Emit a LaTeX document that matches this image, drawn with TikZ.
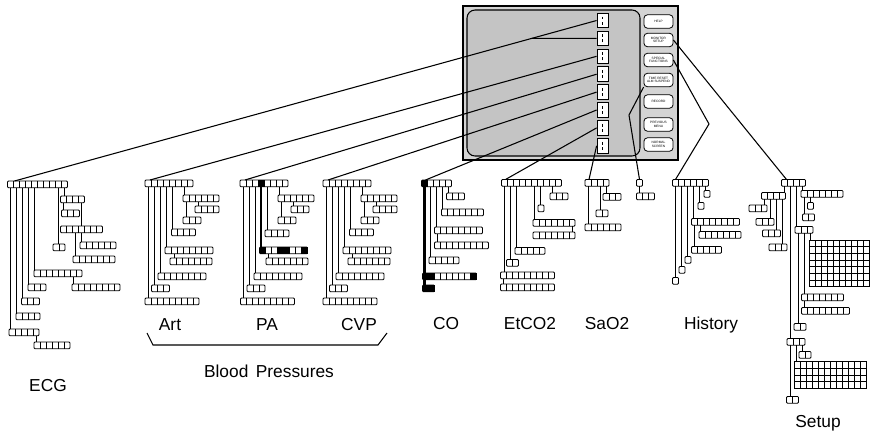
\documentclass[tikz,border=0pt]{standalone}
\usepackage{fontspec}
\setmainfont{Liberation Sans}
\usetikzlibrary{calc}

\newlength\cw \setlength\cw{4.5pt}
\newlength\chh \setlength\chh{5pt}

% row of menu cells: name, x, y, cells
\newcommand\mrow[4]{%
  \node[mrow, minimum width={#4*\cw}] (#1) at (#2,#3) {};
  \ifnum#4>1\relax
    \foreach \k in {2,...,#4}
      \draw[cell] ($(#1.north west)+({6*(\k-1)},0)$) -- ($(#1.south west)+({6*(\k-1)},0)$);
  \fi}
% grid of cells: name, x, y, columns, rows
\newcommand\mgrid[5]{%
  \node[mrow, rounded corners=0pt, minimum width={#4*\cw}, minimum height={#5*\chh}] (#1) at (#2,#3) {};
  \foreach \k in {2,...,#4}
    \draw[cell] ($(#1.north west)+({6*(\k-1)},0)$) -- ($(#1.south west)+({6*(\k-1)},0)$);
  \foreach \r in {2,...,#5}
    \draw[cell] ($(#1.north west)+(0,{6.667*(\r-1)})$) -- ($(#1.north east)+(0,{6.667*(\r-1)})$);}
% black cell
\newcommand\blk[2]{\fill ($(#1.north west)+({6*(#2-1)},0)$) rectangle ($(#1.south west)+({6*#2},0)$);}
% link from cell of one row down to another row
\newcommand\lnk[4][]{%
  \path ($(#2.south west)+({6*#3-3},0)$) coordinate (lk);
  \draw[lnk,#1] (lk) -- (lk |- #4.north);}

\begin{document}
\begin{tikzpicture}[x=0.75pt, y=-0.75pt,
    mrow/.style={draw, fill=white, rounded corners=0.7pt, line width=0.6pt,
      inner sep=0pt, outer sep=0pt, anchor=north west, minimum height=\chh},
    cell/.style={line width=0.45pt},
    lnk/.style={line width=0.55pt},
    heavy/.style={line width=1.6pt},
    feed/.style={line width=0.8pt},
    frame/.style={draw, line width=0.8pt, fill=black!17, minimum width=161.25pt, minimum height=115.5pt},
    screen/.style={draw, line width=0.8pt, fill=black!23, rounded corners=6pt,
      minimum width=129.75pt, minimum height=109.5pt},
    key/.style={draw, fill=white, line width=0.6pt, minimum width=8.25pt, minimum height=11pt,
      inner sep=0pt, path picture={
        \draw[line width=0.6pt] ([yshift=-2.5pt]path picture bounding box.north) -- ++(0,-2.2pt);
        \draw[line width=0.6pt] ([yshift=2.5pt]path picture bounding box.south) -- ++(0,2.2pt);}},
    btn/.style={draw, fill=white, line width=0.6pt, rounded corners=2.5pt, minimum width=21.75pt,
      minimum height=10pt, inner sep=0pt, align=center, font=\fontsize{2.4}{2.8}\selectfont},
    lbl/.style={font=\fontsize{13}{15}\selectfont, inner sep=0pt}]
  \useasboundingbox (0,0) rectangle (872,433);

  \node[frame] (mon) at (570.5,83) {};
  \node[screen] (scr) at (553.5,83) {};
  \foreach \i in {1,...,8}
    \node[key] (k\i) at (602.5,{20.5+17.9*(\i-1)}) {};
  \node[btn] (b1) at (658.5,21.5) {HELP};
  \node[btn] (b2) at (658.5,40) {MONITOR\\SETUP};
  \node[btn] (b3) at (658.5,60) {SPECIAL\\FUNCTIONS};
  \node[btn] (b4) at (658.5,80) {TIME RESET\\ALM SUSPEND};
  \node[btn] (b5) at (658.5,101.5) {RECORD};
  \node[btn] (b6) at (658.5,124.5) {PREVIOUS\\MENU};
  \node[btn] (b7) at (658.5,144.5) {NORMAL\\SCREEN};

  % ECG
  \mrow{e0}{7.5}{181}{10}
  \mrow{e1}{60.5}{196}{4}
  \mrow{e2}{61.5}{210}{3}
  \mrow{e3}{60.5}{226}{7}
  \mrow{e4}{80}{242}{6}
  \mrow{e5}{73}{256}{7}
  \mrow{e6}{53}{244}{2}
  \mrow{e7}{34}{270}{8}
  \mrow{e8}{72}{284}{8}
  \mrow{e9}{28}{284}{3}
  \mrow{e10}{21.5}{298}{3}
  \mrow{e11}{16}{313}{4}
  \mrow{e12}{9}{329}{5}
  \mrow{e13}{34}{342}{6}
  \lnk{e0}{1}{e12} \lnk{e0}{2}{e11} \lnk{e0}{3}{e10} \lnk{e0}{4}{e9}
  \lnk{e0}{5}{e7} \lnk{e0}{9}{e6} \lnk{e0}{10}{e1}
  \lnk{e1}{1}{e2} \lnk{e1}{4}{e3} \lnk{e3}{4}{e4} \lnk{e3}{3}{e5}
  \lnk{e7}{7}{e8} \lnk{e12}{5}{e13}

  % Art
  \mrow{a0}{145}{180}{8}
  \mrow{a1}{183}{195}{6}
  \mrow{a2}{195}{206}{4}
  \mrow{a3}{183}{217}{3}
  \mrow{a4}{171.5}{229}{4}
  \mrow{a5}{165}{247}{8}
  \mrow{a6}{170}{258}{7}
  \mrow{a7}{158}{273}{8}
  \mrow{a8}{151.5}{285}{3}
  \mrow{a9}{145}{298}{9}
  \lnk{a0}{1}{a9} \lnk{a0}{2}{a8} \lnk{a0}{3}{a7} \lnk{a0}{4}{a5}
  \lnk{a0}{5}{a4} \lnk{a0}{7}{a1} \lnk{a1}{1}{a3} \lnk{a1}{3}{a2} \lnk{a5}{2}{a6}

  % PA
  \mrow{p0}{240}{180}{8}
  \mrow{p1}{278}{195}{6}
  \mrow{p2}{291}{206}{3}
  \mrow{p3}{278}{217}{3}
  \mrow{p4}{265}{230}{4}
  \mrow{p5}{259.5}{247}{8}
  \mrow{p6}{266}{258}{7}
  \mrow{p7}{254}{273}{8}
  \mrow{p8}{247}{285}{3}
  \mrow{p9}{240.5}{298}{9}
  \blk{p0}{4} \blk{p5}{1} \blk{p5}{4} \blk{p5}{5} \blk{p5}{8}
  \lnk{p0}{1}{p9} \lnk{p0}{2}{p8} \lnk{p0}{3}{p7} \lnk[heavy]{p0}{4}{p5}
  \lnk{p0}{5}{p4} \lnk{p0}{7}{p1} \lnk{p1}{1}{p3} \lnk{p1}{3}{p2} \lnk{p5}{2}{p6}

  % CVP
  \mrow{c0}{323}{180}{8}
  \mrow{c1}{361}{195}{6}
  \mrow{c2}{373}{206}{4}
  \mrow{c3}{361}{217}{3}
  \mrow{c4}{349.5}{229}{4}
  \mrow{c5}{343}{247}{8}
  \mrow{c6}{348}{258}{7}
  \mrow{c7}{336}{273}{8}
  \mrow{c8}{329.5}{285}{3}
  \mrow{c9}{323}{298}{9}
  \lnk{c0}{1}{c9} \lnk{c0}{2}{c8} \lnk{c0}{3}{c7} \lnk{c0}{4}{c5}
  \lnk{c0}{5}{c4} \lnk{c0}{7}{c1} \lnk{c1}{1}{c3} \lnk{c1}{3}{c2} \lnk{c5}{2}{c6}

  % CO
  \mrow{o0}{421.5}{180}{5}
  \mrow{o1}{446.5}{193}{3}
  \mrow{o2}{441.5}{209}{7}
  \mrow{o3}{434.5}{227}{8}
  \mrow{o4}{434.5}{242}{9}
  \mrow{o5}{429}{257}{5}
  \mrow{o6}{422.5}{273}{9}
  \mrow{o7}{422.5}{285}{2}
  \blk{o0}{1} \blk{o6}{1} \blk{o6}{2} \blk{o6}{9} \blk{o7}{1} \blk{o7}{2}
  \lnk[heavy]{o0}{1}{o7} \lnk{o0}{2}{o5} \lnk{o0}{3}{o3} \lnk{o0}{4}{o2}
  \lnk{o0}{5}{o1} \lnk{o3}{1}{o4}

  % EtCO2
  \mrow{t0}{501.5}{179.5}{10}
  \mrow{t1}{550}{193}{3}
  \mrow{t2}{538}{205}{1}
  \mrow{t3}{533}{219.5}{7}
  \mrow{t4}{533}{232}{7}
  \mrow{t5}{515}{247.5}{5}
  \mrow{t6}{506.5}{259.5}{2}
  \mrow{t7}{500.5}{272}{9}
  \mrow{t8}{500.5}{284}{9}
  \lnk{t0}{1}{t7} \lnk{t7}{1}{t8} \lnk{t0}{2}{t6} \lnk{t0}{3}{t5}
  \lnk{t0}{6}{t3} \lnk{t0}{7}{t2} \lnk{t0}{9}{t1} \lnk{t3}{7}{t4}

  % SaO2
  \mrow{s0}{585}{179.5}{4}
  \mrow{s1}{603}{193.5}{3}
  \mrow{s2}{596}{210}{2}
  \mrow{s3}{585}{224}{6}
  \lnk{s0}{1}{s3} \lnk{s0}{3}{s2} \lnk{s0}{4}{s1}

  % alarm
  \mrow{m0}{636.5}{179.5}{1}
  \mrow{m1}{636.5}{193}{3}
  \lnk{m0}{1}{m1}

  % History
  \mrow{h0}{672.5}{179.5}{6}
  \mrow{h1}{704}{190.5}{1}
  \mrow{h2}{698}{202.5}{1}
  \mrow{h3}{691.5}{218.5}{8}
  \mrow{h4}{699}{231.5}{7}
  \mrow{h5}{691.5}{246.5}{5}
  \mrow{h6}{685}{256.5}{1}
  \mrow{h7}{679}{266.5}{1}
  \mrow{h8}{672.5}{277.5}{1}
  \lnk{h0}{1}{h8} \lnk{h0}{2}{h7} \lnk{h0}{3}{h6} \lnk{h0}{4}{h3}
  \lnk{h3}{1}{h5} \lnk{h3}{2}{h4} \lnk{h0}{5}{h2} \lnk{h0}{6}{h1}

  % Setup
  \mrow{u0}{781.5}{179.5}{4}
  \mrow{u1}{801}{190.5}{7}
  \mrow{u2}{761.5}{192.5}{4}
  \mrow{u3}{749}{205}{3}
  \mrow{u4}{756}{218.5}{3}
  \mrow{u5}{762.5}{230}{3}
  \mrow{u6}{769}{244}{3}
  \mrow{u7}{807.5}{202.5}{1}
  \mrow{u8}{802.5}{214}{2}
  \mrow{u9}{795}{226.5}{3}
  \mgrid{g1}{809}{240}{10}{7}
  \mrow{u10}{801.5}{294}{7}
  \mrow{u11}{801.5}{307.5}{8}
  \mrow{u12}{794}{323.5}{2}
  \mrow{u13}{787}{338.5}{3}
  \mrow{u14}{799}{351.5}{2}
  \mgrid{g2}{794}{361.5}{12}{4}
  \mrow{u15}{786.5}{396.5}{2}
  \lnk{u0}{1}{u2} \lnk{u2}{1}{u3} \lnk{u2}{2}{u4} \lnk{u2}{3}{u5} \lnk{u2}{4}{u6}
  \lnk{u0}{2}{u13} \lnk{u13}{1}{u15} \lnk{u13}{2}{g2} \lnk{u13}{3}{u14}
  \lnk{u0}{3}{u9} \lnk{u9}{1}{u12} \lnk{u9}{2}{u10} \lnk{u10}{1}{u11} \lnk{u9}{3}{g1}
  \lnk{u0}{4}{u1} \lnk{u1}{1}{u8} \lnk{u1}{2}{u7}

  % feeds from the monitor
  \coordinate (ecgtop) at ($(e0.north west)+(7,0)$);
  \draw[feed] (k1.west) -- (ecgtop);
  \draw[feed] (k2.west) -- (intersection of k1.west--ecgtop and k2.west--k2.east);
  \draw[feed] (k3.west) -- ($(a0.north west)+(5,0)$);
  \draw[feed] (k4.west) -- ($(p0.north west)+(5,0)$);
  \draw[feed] (k5.west) -- ($(c0.north west)+(5,0)$);
  \draw[feed] (k6.west) -- ($(o0.north west)+(4,0)$);
  \draw[feed] (k7.west) -- ($(t0.north west)+(4,0)$);
  \draw[feed] (k8.west) -- ($(s0.north west)+(4,0)$);
  \coordinate (mkink) at (629,115);
  \draw[feed] (b4.south west) -- (mkink) -- ($(m0.north west)+(3,0)$);
  \coordinate (hbend) at (709,124);
  \draw[feed] (b3.east) -- (hbend) -- ($(h0.north west)+(3,0)$);
  \draw[feed] (b2.east) -- ($(u0.north west)+(5,0)$);

  % labels
  \node[lbl] (ecg) at (48,386) {ECG};
  \node[lbl] (art) at (170,325) {Art};
  \node[lbl] (pa) at (267,325) {PA};
  \node[lbl] (cvp) at (359,325) {CVP};
  \node[lbl] (co) at (446,324) {CO};
  \node[lbl] (etco) at (530,324) {EtCO2};
  \node[lbl] (sao) at (607,324) {SaO2};
  \node[lbl] (hist) at (711,325) {History};
  \node[lbl] (setup) at (818,423) {Setup};
  \coordinate (brl) at (147,333);
  \coordinate (brr) at (387,333);
  \draw[feed] (brl) -- ++(6,12) -- ($(brr)+(-9,12)$) -- (brr);
  \node[lbl] (bp) at (269,371) {Blood\hspace{2pt} Pressures};
\end{tikzpicture}
\end{document}
